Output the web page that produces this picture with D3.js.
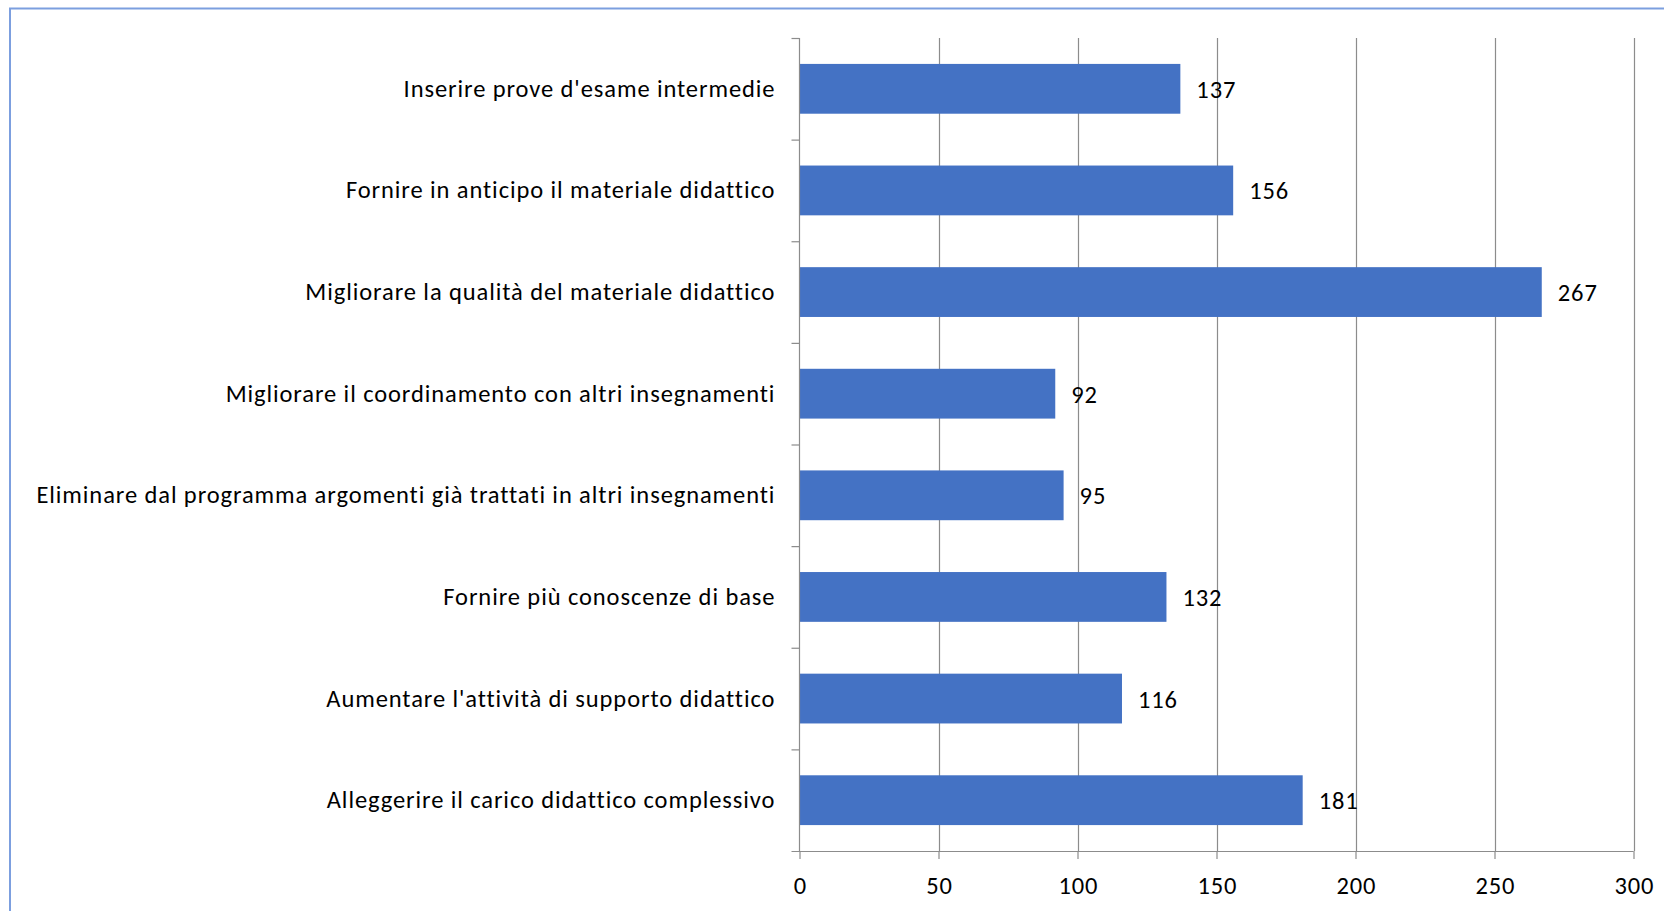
<!DOCTYPE html>
<html>
<head>
<meta charset="utf-8">
<script src="https://cdn.jsdelivr.net/npm/d3@7"></script>
<style>
  html, body { margin: 0; padding: 0; background: #fff; }
  svg { display: block; }
  text { font-family: Carlito, Calibri, Lato, "Open Sans", sans-serif; fill: #000; font-variant-ligatures: none; }
</style>
</head>
<body>
<svg id="chart" width="1664" height="911"></svg>
<script>
const categories = [
  "Inserire prove d'esame intermedie",
  "Fornire in anticipo il materiale didattico",
  "Migliorare la qualità del materiale didattico",
  "Migliorare il coordinamento con altri insegnamenti",
  "Eliminare dal programma argomenti già trattati in altri insegnamenti",
  "Fornire più conoscenze di base",
  "Aumentare l'attività di supporto didattico",
  "Alleggerire il carico didattico complessivo"
];
const values = [137, 156, 267, 92, 95, 132, 116, 181];
const xTicks = [0, 50, 100, 150, 200, 250, 300];

(function () {
const svg = d3.select("#chart");
const W = 1664, H = 911;
const pLeft = 799.5, pRight = 1633.5, pTop = 38, pBottom = 851;
const fs = 24.5;

// outer border (chart area frame)
svg.append("rect")
  .attr("x", 10).attr("y", 8.5)
  .attr("width", W + 20).attr("height", H + 20)
  .attr("fill", "none")
  .attr("stroke", "#7c9fdf")
  .attr("stroke-width", 2);

const x = d3.scaleLinear().domain([0, 300]).range([pLeft, pRight]);
const y = d3.scaleBand().domain(categories).range([pTop, pBottom]).paddingInner(0.51).paddingOuter(0.255);
const yb = d3.scaleBand().domain(categories).range([pTop, pBottom]);

// vertical gridlines
svg.append("g").selectAll("line").data(xTicks.slice(1)).join("line")
  .attr("x1", d => Math.round(x(d)) + 0.5).attr("x2", d => Math.round(x(d)) + 0.5)
  .attr("y1", pTop).attr("y2", pBottom)
  .attr("stroke", "#8c8c8c").attr("stroke-width", 1.2);

// bars
svg.append("g").selectAll("rect").data(values).join("rect")
  .attr("x", x(0))
  .attr("y", (d, i) => y(categories[i]))
  .attr("width", d => x(d) - x(0))
  .attr("height", y.bandwidth())
  .attr("fill", "#4472c4");

// x axis
const xAxis = svg.append("g").attr("transform", `translate(0,${pBottom})`)
  .call(d3.axisBottom(x).tickValues(xTicks).tickSize(8).tickPadding(18).tickFormat(d3.format("d")));
xAxis.select(".domain").attr("d", `M${pLeft - 8},0.5H${pRight}`).attr("stroke", "#8c8c8c").attr("stroke-width", 1.2);
xAxis.selectAll(".tick line").attr("stroke", "#8c8c8c").attr("stroke-width", 1.2);
xAxis.selectAll(".tick text").attr("font-size", fs).attr("fill", "#000")
  .style("font-family", "Carlito, Calibri, Lato, 'Open Sans', sans-serif");

// y axis (line + outward ticks at band boundaries)
svg.append("line").attr("x1", pLeft).attr("x2", pLeft).attr("y1", pTop).attr("y2", pBottom)
  .attr("stroke", "#8c8c8c").attr("stroke-width", 1.2);
const boundaries = categories.map(c => yb(c));
svg.append("g").selectAll("line").data(boundaries).join("line")
  .attr("x1", pLeft - 8).attr("x2", pLeft)
  .attr("y1", d => d + 0.5).attr("y2", d => d + 0.5)
  .attr("stroke", "#8c8c8c").attr("stroke-width", 1.2);

// category labels
const labels = svg.append("g").selectAll("text").data(categories).join("text")
  .attr("x", pLeft - 25)
  .attr("y", d => yb(d) + yb.bandwidth() / 2)
  .attr("text-anchor", "end")
  .attr("dominant-baseline", "central")
  .attr("font-size", fs)
  .text(d => d);

// letter-spacing so longest label spans as in reference (~739px)
let maxW = 0, maxLen = 1;
labels.each(function(d) { const w = this.getComputedTextLength(); if (w > maxW) { maxW = w; maxLen = d.length; } });
const ls = Math.max(0, (739 - maxW) / maxLen);
labels.attr("letter-spacing", ls).attr("x", pLeft - 25 + ls);

// value labels
svg.append("g").selectAll("text").data(values).join("text")
  .attr("x", d => x(d) + 16)
  .attr("y", (d, i) => yb(categories[i]) + yb.bandwidth() / 2 + 1)
  .attr("dominant-baseline", "central")
  .attr("font-size", fs)
  .attr("letter-spacing", ls)
  .text(d => d);
xAxis.selectAll(".tick text").attr("letter-spacing", ls).attr("dx", ls / 2);
})();
</script>
</body>
</html>
